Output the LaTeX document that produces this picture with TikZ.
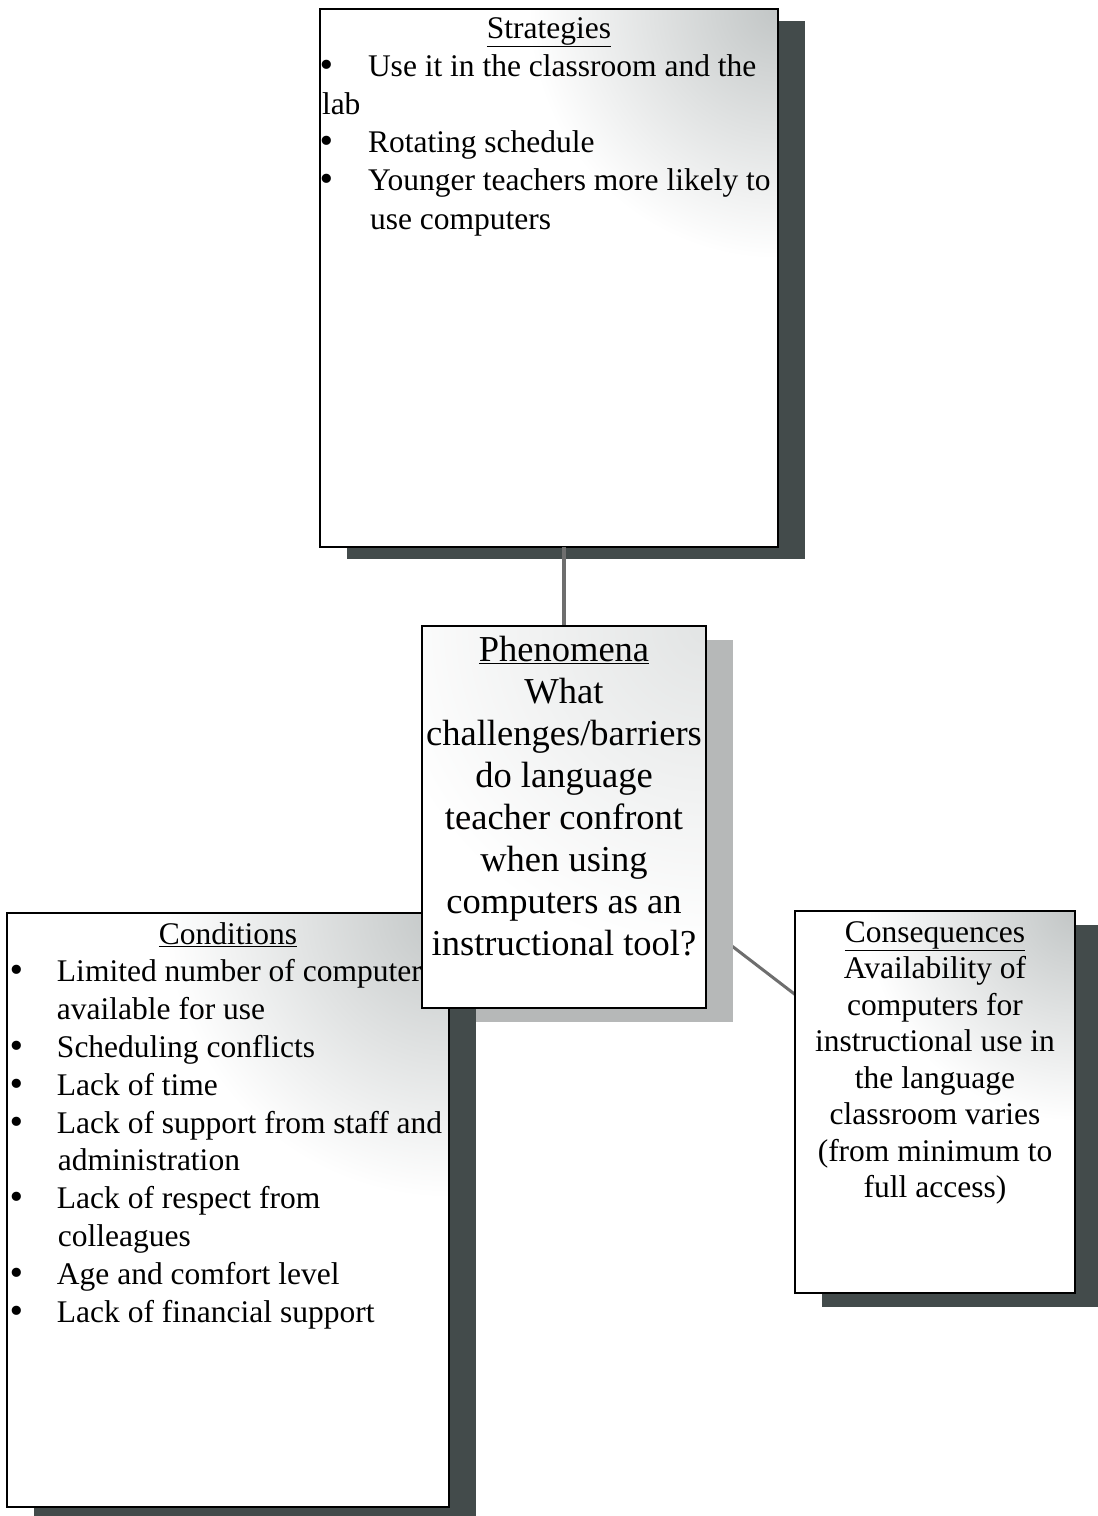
\documentclass[tikz,border=0pt]{standalone}
\usepackage{fontspec}
\setmainfont{Liberation Serif}
\newfontfamily\bulletfont{DejaVu Sans}
\usetikzlibrary{calc,shadows}

\definecolor{shadowdark}{HTML}{434B4B}
\definecolor{shadowlight}{HTML}{B6B8B8}
\definecolor{linkgray}{HTML}{6E6E6E}
\definecolor{hazegray}{HTML}{C2C6C6}
\definecolor{hazelight}{HTML}{E2E4E4}

% list bullet
\newcommand\bigbullet{{\bulletfont •}}

% one line of a text block: centred, bulleted, or indented
\newcommand\ctrline[1]{\makebox[\linewidth][c]{#1}\par}
\newcommand\bulline[3]{\makebox[\linewidth][l]{\hspace*{#1}\makebox[#2][l]{\bigbullet}#3}\par}
\newcommand\indline[2]{\makebox[\linewidth][l]{\hspace*{#1}#2}\par}

% corner haze and frame of a panel
\newcommand\panelfinish[3]{%
  \begin{scope}
    \clip (#1.north west) rectangle (#1.south east);
    \shade[inner color=#2, outer color=white] (#1.north east) circle (#3);
  \end{scope}
  \draw[frame] (#1.north west) rectangle (#1.south east);
}

\tikzset{
  panel/.style={fill=white, draw=none, inner sep=0pt, outer sep=0pt, anchor=north west},
  darkshadow/.style={general shadow={fill=shadowdark, shadow xshift=27pt, shadow yshift=-12pt}},
  frame/.style={draw=black, line width=1.8pt},
  link/.style={draw=linkgray, line width=3.5pt},
  body/.style={anchor=base west, inner sep=0pt, outer sep=0pt},
}

\begin{document}
\begin{tikzpicture}[x=1pt, y=-1pt]
  \fill[white] (0,0) rectangle (1098,1516);
  \useasboundingbox (0,0) rectangle (1098,1516);

  % ---- Strategies
  \node[panel, darkshadow, minimum width=458pt, minimum height=538pt] (strat) at (320,9) {};
  \panelfinish{strat}{hazegray}{250pt}
  \node[body] (strattext) at (320,38) {\parbox[t]{458pt}{\fontsize{31.5}{38.2}\selectfont
    \ctrline{\underline{Strategies}}
    \bulline{-3pt}{51pt}{Use it in the classroom and the}
    \indline{2pt}{lab}
    \bulline{-3pt}{51pt}{Rotating schedule}
    \bulline{-3pt}{51pt}{Younger teachers more likely to}
    \indline{50pt}{use computers}}};

  % ---- connectors, behind the lower panels
  \coordinate (phentop) at (564,626);
  \draw[link] (phentop) -- (phentop |- strat.south);
  \coordinate (phenmid) at (564,817);
  \coordinate (consmid) at (935,1102);
  \draw[link, line width=3pt] (phenmid) -- (consmid);

  % ---- Phenomena shadow (below the Conditions panel)
  \fill[shadowlight] (449,640) rectangle (733,1022);

  % ---- Conditions
  \node[panel, darkshadow, minimum width=442pt, minimum height=594pt] (cond) at (7,913) {};
  \panelfinish{cond}{hazegray}{285pt}
  \node[body] (condtext) at (7,944) {\parbox[t]{442pt}{\fontsize{31.5}{37.8}\selectfont
    \ctrline{\underline{Conditions}}
    \bulline{0pt}{50pt}{Limited number of computers}
    \indline{50pt}{available for use}
    \bulline{0pt}{50pt}{Scheduling conflicts}
    \bulline{0pt}{50pt}{Lack of time}
    \bulline{0pt}{50pt}{Lack of support from staff and}
    \indline{51pt}{administration}
    \bulline{0pt}{50pt}{Lack of respect from}
    \indline{51pt}{colleagues}
    \bulline{0pt}{50pt}{Age and comfort level}
    \bulline{0pt}{50pt}{Lack of financial support}}};

  % ---- Phenomena
  \node[panel, minimum width=284pt, minimum height=382pt] (phen) at (422,626) {};
  \panelfinish{phen}{hazelight}{330pt}
  \node[body] (phentext) at (422,661) {\parbox[t]{284pt}{\fontsize{36.5}{42}\selectfont
    \ctrline{\underline{Phenomena}}
    \ctrline{What}
    \ctrline{challenges/barriers}
    \ctrline{do language}
    \ctrline{teacher confront}
    \ctrline{when using}
    \ctrline{computers as an}
    \ctrline{instructional tool?}}};

  % ---- Consequences
  \node[panel, general shadow={fill=shadowdark, shadow xshift=27pt, shadow yshift=-14pt},
        minimum width=280pt, minimum height=382pt] (cons) at (795,911) {};
  \panelfinish{cons}{hazegray}{210pt}
  \node[body] (constext) at (795,942) {\parbox[t]{280pt}{\fontsize{31.5}{36.5}\selectfont
    \ctrline{\underline{Consequences}}
    \ctrline{Availability of}
    \ctrline{computers for}
    \ctrline{instructional use in}
    \ctrline{the language}
    \ctrline{classroom varies}
    \ctrline{(from minimum to}
    \ctrline{full access)}}};
\end{tikzpicture}
\end{document}
